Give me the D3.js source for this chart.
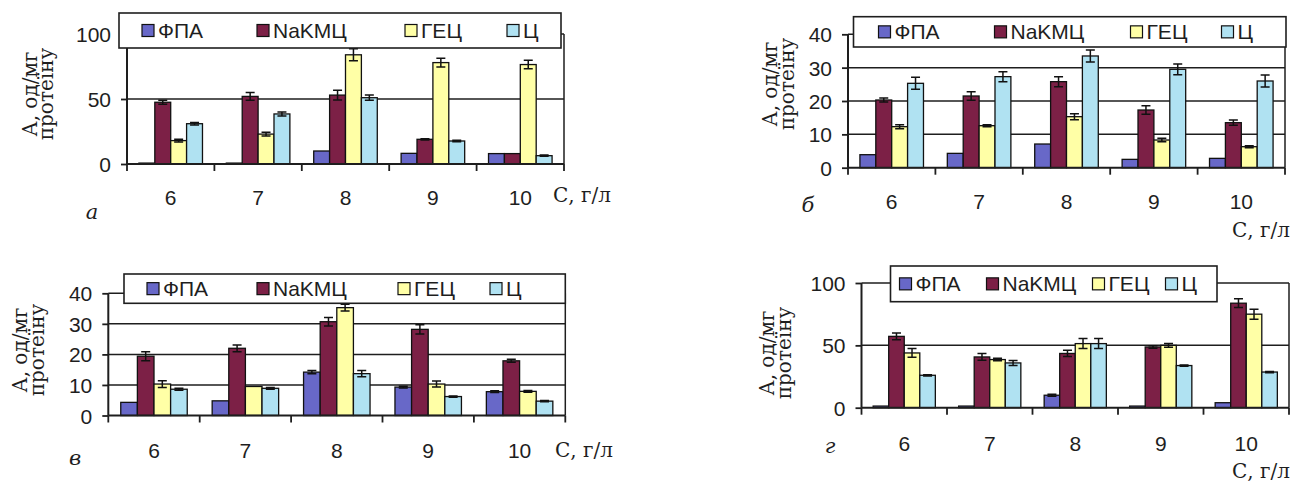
<!DOCTYPE html>
<html>
<head>
<meta charset="utf-8">
<script src="https://cdn.jsdelivr.net/npm/d3@7"></script>
<style>
  html, body { margin: 0; padding: 0; background: #fff; }
  svg { display: block; }
</style>
</head>
<body>
<svg id="chart" width="1293" height="485"></svg>
<script>
// ---------- DATA ----------
const categories = ["6", "7", "8", "9", "10"];
const seriesNames = ["ФПА", "NaKMЦ", "ГЕЦ", "Ц"];
const unitLabel = "С, г/л";
const yTitle1 = "А, од/мг";
const yTitle2 = "протеїну";

// panel а
const valuesA = [
  [0.7, 0.7, 10, 8.2, 8],
  [47.5, 52, 53, 19, 8],
  [18, 23, 84, 78, 76.5],
  [31, 38.5, 51, 17.7, 6.4]
];
const errorsA = [
  [0, 0, 0, 0, 0],
  [1.5, 3, 3.8, 0.5, 0],
  [1, 1.5, 4.6, 3.4, 3.3],
  [1, 1.5, 2, 0.5, 0.5]
];
const yTicksA = [0, 50, 100];

// panel б
const valuesB = [
  [3.9, 4.3, 7.1, 2.5, 2.8],
  [20.3, 21.5, 25.8, 17.3, 13.5],
  [12.3, 12.6, 15.3, 8.3, 6.3],
  [25.3, 27.3, 33.5, 29.5, 26]
];
const errorsB = [
  [0, 0, 0, 0, 0],
  [0.6, 1.3, 1.5, 1.3, 0.8],
  [0.6, 0.3, 0.9, 0.5, 0.3],
  [1.8, 1.5, 1.8, 1.6, 1.8]
];
const yTicksB = [0, 10, 20, 30, 40];

// panel в
const valuesC = [
  [4.3, 4.8, 14.2, 9.3, 7.8],
  [19.4, 22, 30.7, 28.2, 17.9],
  [10.3, 9.5, 35.3, 10.3, 7.9],
  [8.6, 8.9, 13.7, 6.2, 4.7]
];
const errorsC = [
  [0, 0, 0.5, 0.3, 0.3],
  [1.5, 1.1, 1.4, 1.5, 0.5],
  [1.1, 0, 1.1, 1, 0.3],
  [0.3, 0.3, 1, 0.2, 0.2]
];
const yTicksC = [0, 10, 20, 30, 40];

// panel г
const valuesD = [
  [1.3, 1.3, 10, 1.3, 4],
  [57.2, 40.7, 43.5, 48.7, 83.8],
  [43.9, 38.6, 51.4, 50, 75],
  [26, 35.9, 51.4, 33.8, 28.6]
];
const errorsD = [
  [0, 0, 0.8, 0, 0],
  [2.7, 2.7, 2.5, 1, 3.5],
  [3.5, 1, 4, 1.5, 4],
  [0.5, 2, 4, 0.5, 0.5]
];
const yTicksD = [0, 50, 100];

// ---------- STYLE / LAYOUT ----------
const colors = ["#6868c8", "#7c2046", "#ffffa6", "#b0e2f2"];
const SANS = "'Liberation Sans', Arial, sans-serif";
const SERIF = "'DejaVu Serif', serif";
const INK = "#1e1e1e";

const panels = [
  { vals: valuesA, errs: errorsA, ticks: yTicksA, label: "а",
    x0: 127, x1: 564, y0: 164, y1: 34,
    leg: [119, 13, 561, 48], legOff: [23, 138, 286, 388],
    title: [30, 46, 94], catY: 197, unit: [553, 195, "start"], lab: [92, 212] },
  { vals: valuesB, errs: errorsB, ticks: yTicksB, label: "б",
    x0: 848, x1: 1285, y0: 167.7, y1: 34.3,
    leg: [853.5, 16.7, 1286, 47], legOff: [25, 141, 277, 368],
    title: [770, 787, 84], catY: 201, unit: [1290, 230, "end"], lab: [808, 205] },
  { vals: valuesC, errs: errorsC, ticks: yTicksC, label: "в",
    x0: 108.3, x1: 565.3, y0: 415.5, y1: 293.3,
    leg: [124, 274, 565.3, 303.3], legOff: [23, 133, 274, 366],
    title: [20, 37, 350], catY: 450, unit: [555, 450, "start"], lab: [75, 458] },
  { vals: valuesD, errs: errorsD, ticks: yTicksD, label: "г",
    x0: 861.5, x1: 1289, y0: 407.7, y1: 283,
    leg: [890.5, 266, 1217, 301.7], legOff: [9, 96, 202, 275],
    title: [767, 784, 353], catY: 443, unit: [1290, 471, "end"], lab: [830, 446] }
];

const svg = d3.select("#chart");
svg.append("rect").attr("width", 1293).attr("height", 485).attr("fill", "#fff");

panels.forEach(p => {
  const g = svg.append("g");
  const maxV = p.ticks[p.ticks.length - 1];
  const y = d3.scaleLinear().domain([0, maxV]).range([p.y0, p.y1]);
  const x = d3.scaleBand().domain(categories).range([p.x0, p.x1]).paddingInner(0).paddingOuter(0);
  const xs = d3.scaleBand().domain(seriesNames).range([0, x.bandwidth()]).paddingInner(0).paddingOuter(0.75);

  // gridlines (incl. top border)
  g.selectAll("line.grid").data(p.ticks.filter(t => t > 0)).join("line")
    .attr("x1", p.x0).attr("x2", p.x1)
    .attr("y1", d => y(d)).attr("y2", d => y(d))
    .attr("stroke", INK).attr("stroke-width", 1.5);
  // right border
  g.append("line").attr("x1", p.x1).attr("x2", p.x1).attr("y1", y(maxV)).attr("y2", y(0))
    .attr("stroke", INK).attr("stroke-width", 1.5);

  // bars
  seriesNames.forEach((s, si) => {
    const rows = categories.map((c, ci) => ({ c, v: p.vals[si][ci], e: p.errs[si][ci] }));
    g.selectAll(null).data(rows).join("rect")
      .attr("x", d => x(d.c) + xs(s))
      .attr("y", d => y(d.v))
      .attr("width", xs.bandwidth())
      .attr("height", d => y(0) - y(d.v))
      .attr("fill", colors[si])
      .attr("stroke", "#111").attr("stroke-width", 1.3);
    // error bars
    const eb = rows.filter(d => d.e > 0);
    const cx = d => x(d.c) + xs(s) + xs.bandwidth() / 2;
    g.selectAll(null).data(eb).join("path")
      .attr("d", d => {
        const t = y(d.v + d.e), b = y(d.v - d.e), m = cx(d), w = 4.5;
        return `M${m},${t}V${b}M${m - w},${t}H${m + w}M${m - w},${b}H${m + w}`;
      })
      .attr("fill", "none").attr("stroke", "#111").attr("stroke-width", 1.5);
  });

  // y axis
  const ya = g.append("g").attr("transform", `translate(${p.x0},0)`)
    .call(d3.axisLeft(y).tickValues(p.ticks).tickSize(6).tickPadding(10).tickFormat(d3.format("d")));
  ya.select(".domain").remove();
  ya.selectAll(".tick line").attr("stroke", INK).attr("stroke-width", 1.8);
  ya.selectAll(".tick text").attr("fill", INK).attr("font-family", SANS).attr("font-size", 21)
    .attr("dy", "0.36em");
  g.append("line").attr("x1", p.x0).attr("x2", p.x0).attr("y1", y(maxV)).attr("y2", y(0))
    .attr("stroke", INK).attr("stroke-width", 2);

  // x axis baseline + boundary ticks
  g.append("line").attr("x1", p.x0).attr("x2", p.x1).attr("y1", y(0)).attr("y2", y(0))
    .attr("stroke", INK).attr("stroke-width", 2);
  const bounds = categories.map(c => x(c)).concat([x.range()[1]]);
  g.selectAll(null).data(bounds).join("line")
    .attr("x1", d => d).attr("x2", d => d).attr("y1", y(0)).attr("y2", y(0) + 7)
    .attr("stroke", INK).attr("stroke-width", 1.8);
  const xa = g.append("g").attr("transform", `translate(0,${p.catY})`)
    .call(d3.axisBottom(x).tickSize(0).tickPadding(0));
  xa.select(".domain").remove();
  xa.selectAll(".tick text").attr("fill", INK).attr("font-family", SANS).attr("font-size", 21)
    .attr("dy", "0.36em");

  // unit label
  g.append("text").attr("x", p.unit[0]).attr("y", p.unit[1]).attr("dy", "0.35em")
    .attr("text-anchor", p.unit[2])
    .attr("font-family", SERIF).attr("font-size", 20).attr("fill", INK).text(unitLabel);
  // panel letter
  g.append("text").attr("x", p.lab[0]).attr("y", p.lab[1]).attr("dy", "0.35em")
    .attr("text-anchor", "middle").attr("font-family", SERIF).attr("font-style", "italic")
    .attr("font-size", 21).attr("fill", INK).text(p.label);

  // y title
  [[yTitle1, p.title[0]], [yTitle2, p.title[1]]].forEach(([t, tx]) => {
    g.append("text").attr("transform", `translate(${tx},${p.title[2]}) rotate(-90)`)
      .attr("text-anchor", "middle").attr("dominant-baseline", "central")
      .attr("font-family", SERIF).attr("font-size", 20).attr("fill", INK).text(t);
  });

  // legend
  const [lx0, ly0, lx1, ly1] = p.leg;
  const lg = g.append("g");
  lg.append("rect").attr("x", lx0).attr("y", ly0).attr("width", lx1 - lx0).attr("height", ly1 - ly0)
    .attr("fill", "#fff").attr("stroke", INK).attr("stroke-width", 1.6);
  const lmid = (ly0 + ly1) / 2;
  seriesNames.forEach((s, si) => {
    const sx = lx0 + p.legOff[si];
    lg.append("rect").attr("x", sx).attr("y", lmid - 6).attr("width", 12).attr("height", 12)
      .attr("fill", colors[si]).attr("stroke", "#111").attr("stroke-width", 1.2);
    lg.append("text").attr("x", sx + 16).attr("y", lmid).attr("dy", "0.36em")
      .attr("font-family", SANS).attr("font-size", 21).attr("fill", INK).text(s);
  });
});
</script>
</body>
</html>
